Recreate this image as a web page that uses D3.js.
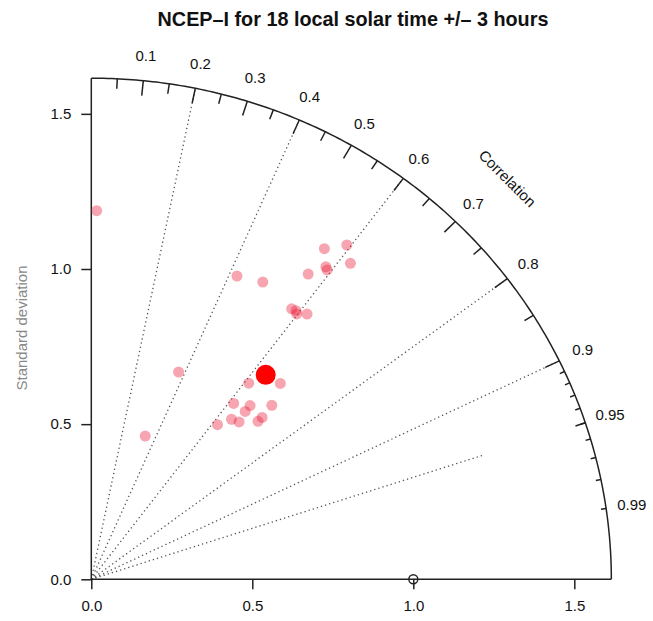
<!DOCTYPE html>
<html>
<head>
<meta charset="utf-8">
<script src="https://cdn.jsdelivr.net/npm/d3@7"></script>
<style>
  html, body { margin: 0; padding: 0; background: #fff; }
  svg { display: block; font-family: "Liberation Sans", Arial, Helvetica, sans-serif; }
</style>
</head>
<body>
<svg id="chart" width="653" height="621"></svg>
<script>
// Taylor diagram: normalised standard deviation vs. correlation
const titleText = "NCEP\u2013I for 18 local solar time +/\u2013 3 hours";
const maxSD = 1.615;
const sdTicks = [0, 0.5, 1.0, 1.5];
const corBigTicks = [0.1, 0.2, 0.3, 0.4, 0.5, 0.6, 0.7, 0.8, 0.9];
const corMedTicks = [0.05, 0.15, 0.25, 0.35, 0.45, 0.55, 0.65, 0.75, 0.85, 0.95];
const corSmallTicks = [0.91, 0.92, 0.93, 0.94, 0.95, 0.96, 0.97, 0.98, 0.99];
const corLabels = [0.1, 0.2, 0.3, 0.4, 0.5, 0.6, 0.7, 0.8, 0.9, 0.95, 0.99];
const corGridLines = [0.2, 0.4, 0.6, 0.8, 0.9];
const refSD = 1.0;

// individual stations (standard deviation, correlation)
const stationSD  = [1.188, 1.288, 1.338, 1.077, 1.096, 1.243, 1.237, 1.298, 1.192,
                    1.071, 1.074, 1.067, 1.086, 0.721, 0.799, 0.862, 0.719, 0.746,
                    0.722, 0.793, 0.675, 0.684, 0.744, 0.726, 0.634, 0.491];
const stationCor = [0.014, 0.562, 0.593, 0.420, 0.486, 0.586, 0.592, 0.620, 0.565,
                    0.581, 0.592, 0.598, 0.617, 0.376, 0.612, 0.681, 0.615, 0.661,
                    0.662, 0.707, 0.645, 0.671, 0.713, 0.713, 0.618, 0.341];
// all-station result
const meanSD = [0.853];
const meanCor = [0.635];

const svg = d3.select("#chart");
const x = d3.scaleLinear().domain([0, 1]).range([91.3, 413.3]);
const y = d3.scaleLinear().domain([0, 1]).range([579.3, 269]);

const px = (sd, r) => x(sd * r);
const py = (sd, r) => y(sd * Math.sqrt(1 - r * r));

const ink = "#222";

// title
svg.append("text")
  .attr("x", 353).attr("y", 26)
  .attr("text-anchor", "middle")
  .attr("font-size", 19.8).attr("font-weight", "bold")
  .attr("fill", "#111")
  .text(titleText);

// correlation grid rays
const g = svg.append("g");
corGridLines.forEach(r => {
  g.append("line")
    .attr("x1", x(0)).attr("y1", y(0))
    .attr("x2", px(maxSD, r)).attr("y2", py(maxSD, r))
    .attr("stroke", "#555").attr("stroke-width", 1.3)
    .attr("stroke-dasharray", "1.3,3");
});
g.append("line")
  .attr("x1", x(0)).attr("y1", y(0))
  .attr("x2", px(1.28, 0.95)).attr("y2", py(1.28, 0.95))
  .attr("stroke", "#555").attr("stroke-width", 1.3)
  .attr("stroke-dasharray", "1.3,3");

// outer arc
const arcPts = d3.range(0, 1.0001, 0.005).map(t => {
  const a = t * Math.PI / 2;
  return [x(maxSD * Math.cos(a)), y(maxSD * Math.sin(a))];
});
g.append("path")
  .attr("d", d3.line()(arcPts))
  .attr("fill", "none").attr("stroke", ink).attr("stroke-width", 1.5);

// arc ticks
function arcTicks(vals, inner) {
  vals.forEach(r => {
    g.append("line")
      .attr("x1", px(maxSD, r)).attr("y1", py(maxSD, r))
      .attr("x2", px(maxSD * inner, r)).attr("y2", py(maxSD * inner, r))
      .attr("stroke", ink).attr("stroke-width", 1.5);
  });
}
arcTicks(corBigTicks, 0.97);
arcTicks(corMedTicks, 0.98);
arcTicks(corSmallTicks, 0.99);

// correlation labels
corLabels.forEach(r => {
  g.append("text")
    .attr("x", px(maxSD * 1.05, r)).attr("y", py(maxSD * 1.05, r))
    .attr("dy", "0.35em")
    .attr("text-anchor", "middle")
    .attr("font-size", 15).attr("fill", "#111")
    .text(r);
});
g.append("text")
  .attr("transform", `translate(${x(maxSD * 0.8)},${y(maxSD * 0.8)}) rotate(45)`)
  .attr("dy", "0.35em")
  .attr("text-anchor", "middle")
  .attr("font-size", 15).attr("fill", "#111")
  .text("Correlation");

// axes
const xAxis = d3.axisBottom(x).tickValues(sdTicks).tickFormat(d3.format(".1f"))
  .tickSize(10).tickPadding(11);
const yAxis = d3.axisLeft(y).tickValues(sdTicks).tickFormat(d3.format(".1f"))
  .tickSize(10).tickPadding(10);
const gx = svg.append("g").attr("transform", `translate(0,${y(0)})`).call(xAxis);
const gy = svg.append("g").attr("transform", `translate(${x(0)},0)`).call(yAxis);
[gx, gy].forEach(a => {
  a.select(".domain").remove();
  a.selectAll(".tick line").attr("stroke", ink).attr("stroke-width", 1.5);
  a.selectAll(".tick text").attr("font-size", 15).attr("fill", "#111")
    .attr("font-family", "Liberation Sans, Arial, sans-serif");
});
svg.append("line")
  .attr("x1", x(0)).attr("y1", y(0)).attr("x2", x(maxSD)).attr("y2", y(0))
  .attr("stroke", ink).attr("stroke-width", 1.5);
svg.append("line")
  .attr("x1", x(0)).attr("y1", y(0)).attr("x2", x(0)).attr("y2", y(maxSD))
  .attr("stroke", ink).attr("stroke-width", 1.5);

svg.append("text")
  .attr("transform", `translate(27,328) rotate(-90)`)
  .attr("text-anchor", "middle")
  .attr("font-size", 15).attr("fill", "#888")
  .text("Standard deviation");

// reference point
svg.append("circle")
  .attr("cx", x(refSD)).attr("cy", y(0)).attr("r", 4.5)
  .attr("fill", "none").attr("stroke", ink).attr("stroke-width", 1.4);

// station points
svg.append("g").selectAll("circle")
  .data(d3.zip(stationSD, stationCor))
  .join("circle")
  .attr("cx", d => px(d[0], d[1]))
  .attr("cy", d => py(d[0], d[1]))
  .attr("r", 5.5)
  .attr("fill", "rgb(235,30,60)").attr("fill-opacity", 0.4);

svg.append("g").selectAll("circle")
  .data(d3.zip(meanSD, meanCor))
  .join("circle")
  .attr("cx", d => px(d[0], d[1]))
  .attr("cy", d => py(d[0], d[1]))
  .attr("r", 10)
  .attr("fill", "#ff0000");
</script>
</body>
</html>
